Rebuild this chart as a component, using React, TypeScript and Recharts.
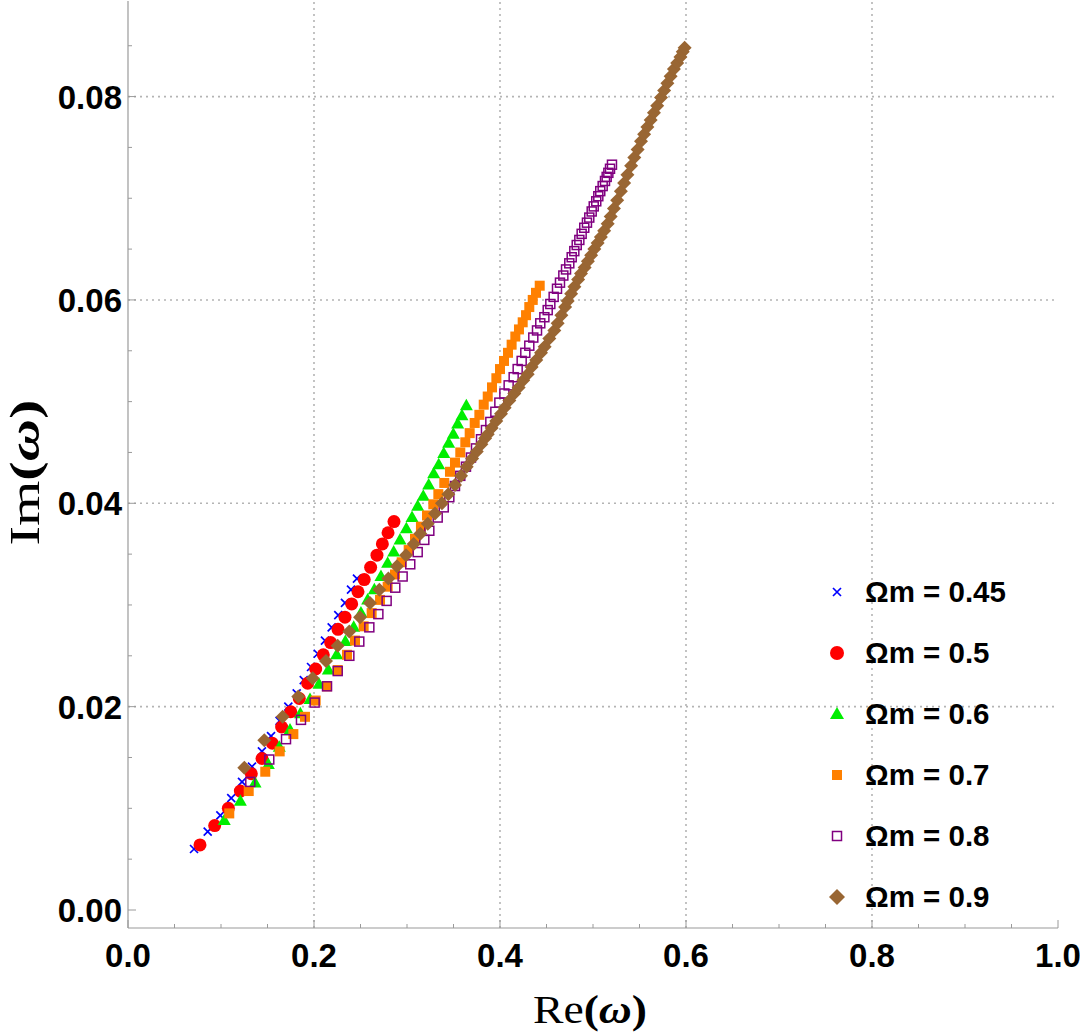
import React from "react";
import { ScatterChart, Scatter, XAxis, YAxis, ReferenceLine } from "recharts";

// Re(ω), Im(ω) pairs
const om045: [number, number][] = [
  [0.071, 0.006], [0.0857, 0.0077], [0.0993, 0.0093], [0.111, 0.011], [0.1226, 0.0126],
  [0.1333, 0.0141], [0.144, 0.0156], [0.1538, 0.0171], [0.163, 0.0186], [0.1724, 0.02],
  [0.1814, 0.0213], [0.189, 0.0226], [0.1968, 0.0239], [0.204, 0.0252], [0.2118, 0.0265],
  [0.219, 0.0278], [0.2261, 0.029], [0.2333, 0.0302], [0.2398, 0.0315], [0.2462, 0.0326],
];

const om05: [number, number][] = [
  [0.0774, 0.0064], [0.0932, 0.0083], [0.1079, 0.01], [0.1208, 0.0117], [0.1326, 0.0134],
  [0.1441, 0.0149], [0.1552, 0.0164], [0.1652, 0.018], [0.175, 0.0195], [0.1842, 0.0208],
  [0.1932, 0.0223], [0.2018, 0.0237], [0.21, 0.0251], [0.2179, 0.0263], [0.2258, 0.0276],
  [0.2333, 0.0288], [0.2405, 0.0301], [0.2473, 0.0313], [0.254, 0.0325], [0.2609, 0.0337],
  [0.2677, 0.0349], [0.2735, 0.036], [0.2796, 0.0371], [0.286, 0.0382],
];

const om06: [number, number][] = [
  [0.1035, 0.0088], [0.1208, 0.0107], [0.1366, 0.0125], [0.1509, 0.0143], [0.1627, 0.016],
  [0.1742, 0.0177], [0.1853, 0.0193], [0.1957, 0.0207], [0.2054, 0.0222], [0.2154, 0.0236],
  [0.2244, 0.0251], [0.2337, 0.0264], [0.2427, 0.0278], [0.2505, 0.0292], [0.2577, 0.0305],
  [0.2649, 0.0315], [0.272, 0.0328], [0.2792, 0.0341], [0.2857, 0.0352], [0.2925, 0.0364],
  [0.2993, 0.0375], [0.3054, 0.0386], [0.3115, 0.0397], [0.3175, 0.0407], [0.3233, 0.0418],
  [0.3287, 0.0429], [0.3341, 0.0438], [0.3395, 0.0449], [0.3448, 0.0459], [0.3498, 0.0468],
  [0.3545, 0.0478], [0.3591, 0.0486], [0.3638, 0.0496],
];

const om07: [number, number][] = [
  [0.1089, 0.0095], [0.1298, 0.0117], [0.1476, 0.0136], [0.1631, 0.0156], [0.1778, 0.0173],
  [0.1903, 0.019], [0.2018, 0.0206], [0.214, 0.022], [0.2255, 0.0236], [0.2355, 0.0251],
  [0.2441, 0.0265], [0.2534, 0.0279], [0.262, 0.0292], [0.271, 0.0305], [0.2792, 0.0318],
  [0.2871, 0.033], [0.2943, 0.0342], [0.3018, 0.0354], [0.3086, 0.0365], [0.315, 0.0377],
  [0.3215, 0.0388], [0.3283, 0.0399], [0.3337, 0.0409], [0.3401, 0.042], [0.3462, 0.0431],
  [0.3516, 0.044], [0.3573, 0.045], [0.3627, 0.046], [0.3674, 0.0469], [0.3728, 0.0479],
  [0.3778, 0.0487], [0.3825, 0.0497], [0.3868, 0.0505], [0.3914, 0.0514], [0.3961, 0.0523],
  [0.4, 0.0532], [0.4043, 0.054], [0.4086, 0.0548], [0.4125, 0.0556], [0.4165, 0.0564],
  [0.4204, 0.0571], [0.4244, 0.0578], [0.428, 0.0585], [0.4315, 0.0593], [0.4352, 0.06],
  [0.4387, 0.0607], [0.4427, 0.0614],
];

const om08: [number, number][] = [
  [0.1315, 0.0126], [0.1519, 0.0148], [0.1699, 0.0168], [0.186, 0.0187], [0.2007, 0.0204],
  [0.214, 0.022], [0.2255, 0.0235], [0.238, 0.025], [0.2487, 0.0264], [0.2595, 0.0278],
  [0.2692, 0.0291], [0.2781, 0.0304], [0.2874, 0.0317], [0.2953, 0.0328], [0.3035, 0.034],
  [0.3115, 0.0352], [0.3186, 0.0364], [0.324, 0.0373], [0.333, 0.0386], [0.3395, 0.0396],
  [0.3455, 0.0406], [0.3516, 0.0417], [0.3573, 0.0427], [0.3634, 0.0436], [0.3688, 0.0445],
  [0.3742, 0.0454], [0.3796, 0.0463], [0.3849, 0.0472], [0.3896, 0.048], [0.395, 0.049],
  [0.3993, 0.0499], [0.4047, 0.0508], [0.4093, 0.0516], [0.4147, 0.0524], [0.419, 0.0532],
  [0.4233, 0.054], [0.4272, 0.0548], [0.4315, 0.0555], [0.4358, 0.0563], [0.4398, 0.057],
  [0.4433, 0.0577], [0.4477, 0.0583], [0.4513, 0.059], [0.4541, 0.0596], [0.4577, 0.0603],
  [0.4613, 0.0611], [0.4645, 0.0617], [0.4681, 0.0624], [0.471, 0.063], [0.4745, 0.0636],
  [0.4771, 0.0642], [0.4799, 0.0648], [0.4825, 0.0654], [0.4853, 0.0659], [0.4878, 0.0665],
  [0.4906, 0.0671], [0.4935, 0.0676], [0.496, 0.0681], [0.4986, 0.0687], [0.5008, 0.0692],
  [0.5035, 0.0697], [0.5057, 0.0702], [0.5078, 0.0707], [0.5104, 0.0712], [0.5129, 0.0717],
  [0.5147, 0.0721], [0.5165, 0.0725], [0.5183, 0.0729], [0.5204, 0.0733],
];

const om09: [number, number][] = [
  [0.1251, 0.014], [0.1466, 0.0167], [0.1663, 0.019], [0.1831, 0.021], [0.1986, 0.0228],
  [0.2129, 0.0245], [0.2255, 0.026], [0.238, 0.0274], [0.2495, 0.0288], [0.2602, 0.0302],
  [0.2703, 0.0315], [0.28, 0.0326], [0.2892, 0.0338], [0.2989, 0.0349], [0.3072, 0.036],
  [0.3143, 0.037], [0.3223, 0.038], [0.3301, 0.039], [0.3376, 0.04], [0.3444, 0.0409],
  [0.3516, 0.0418], [0.3581, 0.0427], [0.3642, 0.0436], [0.37, 0.0444], [0.375, 0.0451],
  [0.38, 0.0458], [0.384, 0.0464], [0.3868, 0.0468], [0.391, 0.0474], [0.396, 0.0481],
  [0.4011, 0.0488], [0.405, 0.0494], [0.41, 0.0501], [0.4154, 0.0508], [0.42, 0.0514],
  [0.425, 0.0521], [0.4298, 0.0527], [0.434, 0.0534], [0.439, 0.0541], [0.4441, 0.0548],
  [0.448, 0.0554], [0.453, 0.0562], [0.4584, 0.057], [0.462, 0.0577], [0.466, 0.0585],
  [0.47, 0.0593], [0.4728, 0.0599], [0.4765, 0.0606], [0.48, 0.0613], [0.484, 0.062],
  [0.4871, 0.0626], [0.491, 0.0632], [0.4945, 0.0638], [0.498, 0.0644], [0.5014, 0.065],
  [0.505, 0.0656], [0.5085, 0.0662], [0.512, 0.0668], [0.5158, 0.0675], [0.519, 0.0682],
  [0.5225, 0.069], [0.526, 0.0698], [0.53, 0.0707], [0.5335, 0.0715], [0.537, 0.0723],
  [0.541, 0.0732], [0.5444, 0.074], [0.548, 0.0748], [0.5516, 0.0756], [0.555, 0.0763],
  [0.5585, 0.077], [0.562, 0.0777], [0.5655, 0.0784], [0.569, 0.0791], [0.5731, 0.0799],
  [0.5765, 0.0806], [0.58, 0.0813], [0.5835, 0.082], [0.587, 0.0827], [0.5905, 0.0833],
  [0.594, 0.0839], [0.5965, 0.0844], [0.5985, 0.0848],
];

const xMajorTicks = [0, 0.2, 0.4, 0.6, 0.8, 1.0];
const xMinorTicks = [0.05, 0.1, 0.15, 0.25, 0.3, 0.35, 0.45, 0.5, 0.55, 0.65, 0.7, 0.75, 0.85, 0.9, 0.95];
const yMajorTicks = [0, 0.02, 0.04, 0.06, 0.08];
const yMinorTicks = [0.005, 0.01, 0.015, 0.025, 0.03, 0.035, 0.045, 0.05, 0.055, 0.065, 0.07, 0.075, 0.085];
const xGrid = [0.2, 0.4, 0.6, 0.8];
const yGrid = [0.02, 0.04, 0.06, 0.08];

const W = 1080;
const H = 1036;
const FRAME = "#9a9a9a";
const GRID = "#b4b4b4";
const TICK_FONT = "'Liberation Sans', Arial, sans-serif";
const LABEL_FONT = "'Liberation Serif', 'Times New Roman', serif";

const toPts = (a: [number, number][]) => a.map(([x, y]) => ({ x, y }));

const Cross = (p: any) => {
  const { cx, cy } = p;
  const s = 4;
  return (
    <path
      d={`M${cx - s},${cy - s}L${cx + s},${cy + s}M${cx - s},${cy + s}L${cx + s},${cy - s}`}
      stroke="#0000ff"
      strokeWidth={1.7}
      fill="none"
    />
  );
};
const Disk = (p: any) => <circle cx={p.cx} cy={p.cy} r={6.5} fill="#ff0000" />;
const Tri = (p: any) => {
  const { cx, cy } = p;
  return <path d={`M${cx},${cy - 7}L${cx + 6.5},${cy + 4.5}L${cx - 6.5},${cy + 4.5}Z`} fill="#00ee00" />;
};
const Sq = (p: any) => <rect x={p.cx - 5} y={p.cy - 5} width={10} height={10} fill="#ff8000" />;
const OpenSq = (p: any) => (
  <rect x={p.cx - 4.5} y={p.cy - 4.5} width={9} height={9} fill="none" stroke="#800080" strokeWidth={1.5} />
);
const Diamond = (p: any) => {
  const { cx, cy } = p;
  return <path d={`M${cx},${cy - 7}L${cx + 7},${cy}L${cx},${cy + 7}L${cx - 7},${cy}Z`} fill="#996633" />;
};

const series = [
  { name: "Ωm = 0.45", data: om045, shape: Cross },
  { name: "Ωm = 0.5", data: om05, shape: Disk },
  { name: "Ωm = 0.6", data: om06, shape: Tri },
  { name: "Ωm = 0.7", data: om07, shape: Sq },
  { name: "Ωm = 0.8", data: om08, shape: OpenSq },
  { name: "Ωm = 0.9", data: om09, shape: Diamond },
];

const BottomTick = (props: any) => {
  const { x, y, payload } = props;
  const major = xMajorTicks.includes(payload.value);
  return (
    <g>
      <line x1={x} y1={y} x2={x} y2={y - (major ? 8 : 4)} stroke={FRAME} />
      {major && (
        <text x={x} y={y + 39} textAnchor="middle" fontFamily={TICK_FONT} fontWeight="bold" fontSize={33} fill="#000">
          {payload.value.toFixed(1)}
        </text>
      )}
    </g>
  );
};
const TopTick = (props: any) => {
  const { x, y, payload } = props;
  const major = xMajorTicks.includes(payload.value);
  return <line x1={x} y1={y} x2={x} y2={y + (major ? 8 : 4)} stroke={FRAME} />;
};
const LeftTick = (props: any) => {
  const { x, y, payload } = props;
  const major = yMajorTicks.includes(payload.value);
  return (
    <g>
      <line x1={x} y1={y} x2={x + (major ? 8 : 4)} y2={y} stroke={FRAME} />
      {major && (
        <text x={x - 6} y={y + 12} textAnchor="end" fontFamily={TICK_FONT} fontWeight="bold" fontSize={33} fill="#000">
          {payload.value.toFixed(2)}
        </text>
      )}
    </g>
  );
};
const RightTick = (props: any) => {
  const { x, y, payload } = props;
  const major = yMajorTicks.includes(payload.value);
  return <line x1={x} y1={y} x2={x - (major ? 8 : 4)} y2={y} stroke={FRAME} />;
};

const legendIcons = [
  <path d="M4,4L12,12M4,12L12,4" stroke="#0000ff" strokeWidth={1.7} fill="none" />,
  <circle cx={8} cy={8} r={7} fill="#ff0000" />,
  <path d="M8,1L15,13L1,13Z" fill="#00ee00" />,
  <rect x={3} y={3} width={10} height={10} fill="#ff8000" />,
  <rect x={3.5} y={3.5} width={9} height={9} fill="none" stroke="#800080" strokeWidth={1.5} />,
  <path d="M8,0L16,8L8,16L0,8Z" fill="#996633" />,
];

export default function App() {
  return (
    <div style={{ position: "absolute", left: 0, top: 0, width: W, height: H, background: "#fff" }}>
      <ScatterChart width={W} height={H} margin={{ top: 1, right: 22, bottom: 0, left: 0 }}>
        <XAxis
          type="number"
          dataKey="x"
          domain={[0, 1]}
          ticks={[...xMajorTicks, ...xMinorTicks]}
          interval={0}
          allowDataOverflow
          height={108}
          tickSize={0}
          tickMargin={0}
          tick={<BottomTick />}
          axisLine={{ stroke: FRAME, strokeWidth: 1.2 }}
          label={(p: any) => {
            const vb = p.viewBox;
            return (
              <text
                x={vb.x + vb.width / 2 - 3}
                y={vb.y + 95}
                textAnchor="middle"
                fontFamily={LABEL_FONT}
                fontSize={41}
                textLength={114}
                lengthAdjust="spacingAndGlyphs"
                fill="#000"
              >
                Re<tspan fontWeight="bold">(<tspan fontStyle="italic">ω</tspan>)</tspan>
              </text>
            );
          }}
        />
        <XAxis
          xAxisId="top"
          orientation="top"
          type="number"
          domain={[0, 1]}
          ticks={[...xMajorTicks, ...xMinorTicks]}
          interval={0}
          allowDataOverflow
          height={0}
          tickSize={0}
          tickMargin={0}
          tick={<TopTick />}
          axisLine={{ stroke: FRAME, strokeWidth: 1.2 }}
        />
        <YAxis
          type="number"
          dataKey="y"
          domain={[-0.00177, 0.0894]}
          ticks={[...yMajorTicks, ...yMinorTicks]}
          interval={0}
          allowDataOverflow
          width={128}
          tickSize={0}
          tickMargin={0}
          tick={<LeftTick />}
          axisLine={{ stroke: FRAME, strokeWidth: 1.2 }}
          label={(p: any) => {
            const vb = p.viewBox;
            const cx = 25;
            const cy = vb.y + vb.height / 2 + 8;
            return (
              <text
                x={cx}
                y={cy}
                transform={`rotate(-90, ${cx}, ${cy})`}
                textAnchor="middle"
                dominantBaseline="central"
                fontFamily={LABEL_FONT}
                fontSize={42}
                textLength={146}
                lengthAdjust="spacingAndGlyphs"
                fill="#000"
              >
                Im<tspan fontWeight="bold">(<tspan fontStyle="italic">ω</tspan>)</tspan>
              </text>
            );
          }}
        />
        <YAxis
          yAxisId="right"
          orientation="right"
          type="number"
          domain={[-0.00177, 0.0894]}
          ticks={[...yMajorTicks, ...yMinorTicks]}
          interval={0}
          allowDataOverflow
          width={0}
          tickSize={0}
          tickMargin={0}
          tick={<RightTick />}
          axisLine={{ stroke: FRAME, strokeWidth: 1.2 }}
        />
        {xGrid.map((v) => (
          <ReferenceLine key={"gx" + v} x={v} stroke={GRID} strokeWidth={1.6} strokeDasharray="2 4" />
        ))}
        {yGrid.map((v) => (
          <ReferenceLine key={"gy" + v} y={v} stroke={GRID} strokeWidth={1.6} strokeDasharray="2 4" />
        ))}
        {series.map((s) => (
          <Scatter key={s.name} name={s.name} data={toPts(s.data)} shape={s.shape} isAnimationActive={false} />
        ))}
      </ScatterChart>
      <div style={{ position: "absolute", left: 828, top: 561 }}>
        {series.map((s, i) => (
          <div key={s.name} style={{ display: "flex", alignItems: "center", height: 61 }}>
            <svg width={18} height={18} viewBox="-1 -1 18 18" style={{ marginRight: 19 }}>
              {legendIcons[i]}
            </svg>
            <span style={{ fontFamily: TICK_FONT, fontWeight: "bold", fontSize: 29.5, color: "#000", lineHeight: "30px" }}>
              {s.name}
            </span>
          </div>
        ))}
      </div>
    </div>
  );
}
